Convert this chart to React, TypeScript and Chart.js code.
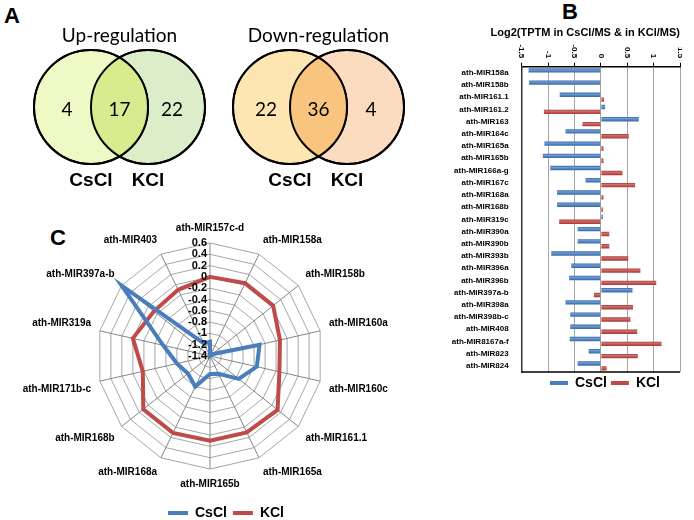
import React, { useEffect, useRef } from 'react';
import { Chart, registerables } from 'chart.js';
Chart.register(...registerables);

const FONT = '"Liberation Sans", Arial, sans-serif';
const VENN_FONT = 'Lato, "Open Sans", sans-serif';
Chart.defaults.font.family = FONT;
Chart.defaults.color = '#000';

// ---------- Panel A (Venn) ----------
const vennSets = ['CsCl', 'KCl'];
const upCounts = [4, 17, 22];
const downCounts = [22, 36, 4];

// ---------- Panel B (bars) ----------
const barCategories = [
  'ath-MIR158a', 'ath-MIR158b', 'ath-MIR161.1', 'ath-MIR161.2', 'ath-MIR163', 'ath-MIR164c',
  'ath-MIR165a', 'ath-MIR165b', 'ath-MIR166a-g', 'ath-MIR167c', 'ath-MIR168a', 'ath-MIR168b',
  'ath-MIR319c', 'ath-MIR390a', 'ath-MIR390b', 'ath-MIR393b', 'ath-MIR396a', 'ath-MIR396b',
  'ath-MIR397a-b', 'ath-MIR398a', 'ath-MIR398b-c', 'ath-MIR408', 'ath-MIR8167a-f', 'ath-MIR823', 'ath-MIR824',
];
const barCsCl = [-1.37, -1.36, -0.78, 0.08, 0.72, -0.67, -1.07, -1.1, -0.96, -0.29, -0.83, -0.83, 0.04,
  -0.44, -0.44, -0.94, -0.56, -0.6, 0.6, -0.67, -0.58, -0.58, -0.59, -0.23, -0.44];
const barKCl = [0.01, 0.01, 0.06, -1.08, -0.35, 0.53, 0.05, 0.05, 0.41, 0.65, 0.05, 0.04, -0.79,
  0.16, 0.16, 0.52, 0.75, 1.05, -0.13, 0.61, 0.56, 0.69, 1.15, 0.7, 0.11];
const barTickLabels = ['-1.5', '-1', '-0.5', '0', '0.5', '1', '1.5'];
const barTitle = 'Log2(TPTM in CsCl/MS & in KCl/MS)';

// ---------- Panel C (radar) ----------
const radarCategories = [
  'ath-MIR157c-d', 'ath-MIR158a', 'ath-MIR158b', 'ath-MIR160a', 'ath-MIR160c', 'ath-MIR161.1',
  'ath-MIR165a', 'ath-MIR165b', 'ath-MIR168a', 'ath-MIR168b', 'ath-MIR171b-c', 'ath-MIR319a',
  'ath-MIR397a-b', 'ath-MIR403',
];
const radarCsCl = [-1.15, -1.4, -1.35, -0.5, -0.55, -0.75, -1.05, -1.08, -0.8, -0.9, -0.8, -0.55, 0.6, -1.15];
const radarKCl = [0.0, 0.03, 0.03, -0.13, -0.14, 0.13, 0.1, 0.1, 0.11, 0.11, -0.18, 0.0, -0.13, -0.1];
const radarTickLabels = ['-1.4', '-1.2', '-1', '-0.8', '-0.6', '-0.4', '-0.2', '0', '0.2', '0.4', '0.6'];

const BLUE = '#4a7ebb';
const RED = '#be4b48';
const BAR_SHADES = [['#3a69a3', '#6f9bd3', BLUE], ['#a33d3a', '#d06f6c', RED]];
const VENN_RADIUS = 57;

// ---------- plugins ----------
const legendShift = {
  id: 'legendShift',
  afterLayout(chart: any, _a: any, opts: any) {
    const lg = chart.legend;
    if (!lg) return;
    const dx = opts.dx || 0, dy = opts.dy || 0;
    lg.left += dx; lg.right += dx; lg.top += dy; lg.bottom += dy;
  },
};

const vennOverlay = {
  id: 'vennOverlay',
  afterDatasetsDraw(chart: any, _a: any, opts: any) {
    const a = chart.getDatasetMeta(0).data[0];
    const b = chart.getDatasetMeta(1).data[0];
    if (!a || !b) return;
    const ra = a.options.radius, rb = b.options.radius;
    const ctx = chart.ctx;
    ctx.save();
    ctx.beginPath(); ctx.arc(a.x, a.y, ra, 0, Math.PI * 2); ctx.clip();
    ctx.beginPath(); ctx.arc(b.x, b.y, rb, 0, Math.PI * 2);
    ctx.fillStyle = opts.lensColor; ctx.fill();
    ctx.restore();
    ctx.save();
    ctx.lineWidth = 2; ctx.strokeStyle = '#000';
    [[a, ra], [b, rb]].forEach(([p, r]: any) => { ctx.beginPath(); ctx.arc(p.x, p.y, r, 0, Math.PI * 2); ctx.stroke(); });
    const xs = chart.scales.x, ys = chart.scales.y;
    const pos = [-0.42, 0.5, 1.42];
    ctx.font = `19px ${VENN_FONT}`; ctx.fillStyle = '#000'; ctx.textAlign = 'center'; ctx.textBaseline = 'middle';
    opts.counts.forEach((c: number, i: number) => ctx.fillText(String(c), xs.getPixelForValue(pos[i]), ys.getPixelForValue(0) + 3));
    ctx.restore();
  },
};

const barShade = {
  id: 'barShade',
  beforeDatasetsDraw(chart: any) {
    const ctx = chart.ctx;
    chart.data.datasets.forEach((_d: any, di: number) => {
      const [dark, light, base] = BAR_SHADES[di];
      chart.getDatasetMeta(di).data.forEach((el: any) => {
        const h = el.height, top = el.y - h / 2;
        const g = ctx.createLinearGradient(0, top, 0, top + h);
        g.addColorStop(0, dark); g.addColorStop(0.35, light); g.addColorStop(0.7, base); g.addColorStop(1, dark);
        el.options = Object.assign({}, el.options, { backgroundColor: g });
      });
    });
  },
};

const barDecor = {
  id: 'barDecor',
  afterDraw(chart: any) {
    const s = chart.scales.x; const ctx = chart.ctx; const ca = chart.chartArea;
    ctx.save();
    ctx.strokeStyle = '#000'; ctx.lineWidth = 1.5;
    ctx.beginPath(); ctx.moveTo(ca.left, ca.bottom); ctx.lineTo(ca.right, ca.bottom); ctx.stroke();
    ctx.font = `bold 8px ${FONT}`; ctx.fillStyle = '#000'; ctx.textAlign = 'right'; ctx.textBaseline = 'middle';
    s.ticks.forEach((t: any) => {
      const x = s.getPixelForValue(t.value);
      ctx.save(); ctx.translate(x, s.bottom - 8.5); ctx.rotate(Math.PI / 2); ctx.fillText(t.label, 0, 0); ctx.restore();
    });
    ctx.restore();
  },
};

const radarTicks = {
  id: 'radarTicks',
  afterDatasetsDraw(chart: any) {
    const s = chart.scales.r; const ctx = chart.ctx;
    ctx.save();
    ctx.font = `bold 11px ${FONT}`; ctx.fillStyle = '#000'; ctx.textAlign = 'right'; ctx.textBaseline = 'middle';
    s.ticks.forEach((t: any) => {
      const d = s.getDistanceFromCenterForValue(t.value);
      ctx.fillText(t.label, s.xCenter - 3, s.yCenter - d);
    });
    ctx.restore();
  },
};

// ---------- configs ----------
function vennConfig(title: string, counts: number[], fills: string[], lens: string): any {
  return {
    type: 'bubble',
    data: {
      datasets: vennSets.map((name, i) => ({
        label: name, data: [{ x: i, y: 0 }], backgroundColor: fills[i], borderColor: '#000', borderWidth: 2,
        radius: VENN_RADIUS, hoverRadius: 0, clip: false,
      })),
    },
    options: {
      responsive: false, animation: false, events: [],
      layout: { padding: { left: 10, right: 10 }, autoPadding: false },
      scales: {
        x: {
          type: 'linear', min: -1, max: 2,
          afterBuildTicks: (s: any) => { s.ticks = vennSets.map((_, i) => ({ value: i })); },
          ticks: { callback: (v: number) => vennSets[v], font: { size: 19, weight: 'bold' }, color: '#000', padding: 5, maxRotation: 0, autoSkip: false },
          grid: { display: false, drawTicks: false }, border: { display: false },
          afterFit: (s: any) => { s.height = 28; },
        },
        y: { display: false, min: -1, max: 1 },
      },
      plugins: {
        legend: { display: false }, tooltip: { enabled: false },
        title: { display: true, text: title, font: { family: VENN_FONT, size: 19, weight: 'normal' }, padding: { top: 0, bottom: 3 }, color: '#000' },
        vennOverlay: { lensColor: lens, counts },
      },
    },
    plugins: [vennOverlay],
  };
}

function barConfig(): any {
  return {
    type: 'bar',
    data: {
      labels: barCategories,
      datasets: [
        { label: 'CsCl', data: barCsCl, backgroundColor: BLUE, borderWidth: 0, categoryPercentage: 0.8, barPercentage: 0.9 },
        { label: 'KCl', data: barKCl, backgroundColor: RED, borderWidth: 0, categoryPercentage: 0.8, barPercentage: 0.9 },
      ],
    },
    options: {
      indexAxis: 'y', responsive: false, animation: false, events: [],
      layout: { padding: { right: 2 } },
      scales: {
        x: {
          position: 'top', min: -1.5, max: 1.5,
          ticks: { stepSize: 0.5, display: false, callback: (_v: number, i: number) => barTickLabels[i] },
          grid: { color: '#a6a6a6', tickLength: 4, tickColor: '#000' },
          border: { color: '#000', width: 1.5 },
          afterFit: (s: any) => { s.height = 23.5; },
        },
        y: {
          ticks: { font: { size: 8, weight: 'bold' }, color: '#000', padding: 5, autoSkip: false },
          grid: { display: false }, border: { color: '#333', width: 1.5 },
          afterFit: (s: any) => { s.width = 81.7; },
        },
      },
      plugins: {
        tooltip: { enabled: false },
        title: { display: true, text: barTitle, align: 'end', font: { size: 11, weight: 'bold' }, padding: { top: 0, bottom: 4 }, color: '#000' },
        legend: {
          position: 'bottom',
          labels: { boxWidth: 18, boxHeight: 4, padding: 4, font: { size: 14, weight: 'bold' }, color: '#000' },
        },
        legendShift: { dx: 45, dy: 0 },
      },
    },
    plugins: [barShade, barDecor, legendShift],
  };
}

function radarConfig(): any {
  return {
    type: 'radar',
    data: {
      labels: radarCategories,
      datasets: [
        { label: 'CsCl', data: radarCsCl, borderColor: BLUE, backgroundColor: BLUE, borderWidth: 4, pointRadius: 0, fill: false, tension: 0 },
        { label: 'KCl', data: radarKCl, borderColor: RED, backgroundColor: RED, borderWidth: 4, pointRadius: 0, fill: false, tension: 0 },
      ],
    },
    options: {
      responsive: false, animation: false, events: [],
      scales: {
        r: {
          min: -1.4, max: 0.6,
          ticks: { display: false, stepSize: 0.2, callback: (_v: number, i: number) => radarTickLabels[i] },
          grid: { color: '#a6a6a6', lineWidth: 1 },
          angleLines: { color: '#868686', lineWidth: 1 },
          pointLabels: { font: { size: 10, weight: 'bold' }, color: '#000', padding: 9 },
        },
      },
      plugins: {
        tooltip: { enabled: false },
        legend: {
          position: 'bottom',
          labels: {
            boxWidth: 20, boxHeight: 4, padding: 6, font: { size: 14, weight: 'bold' }, color: '#000',
            generateLabels: (chart: any) =>
              (Chart.defaults.plugins.legend.labels as any).generateLabels(chart).map((l: any) => ({ ...l, lineWidth: 0, fillStyle: l.strokeStyle })),
          },
        },
        legendShift: { dx: 16, dy: 10 },
      },
    },
    plugins: [radarTicks, legendShift],
  };
}

function ChartBox({ make, left, top, width, height }: { make: () => any; left: number; top: number; width: number; height: number }) {
  const ref = useRef<HTMLCanvasElement>(null);
  useEffect(() => {
    const chart = new Chart(ref.current as HTMLCanvasElement, make());
    return () => chart.destroy();
  }, []);
  return (
    <div style={{ position: 'absolute', left, top, width, height }}>
      <canvas ref={ref} width={width} height={height} style={{ width, height, display: 'block' }} />
    </div>
  );
}

const letterStyle: React.CSSProperties = {
  position: 'absolute', fontFamily: FONT, fontWeight: 'bold', fontSize: 22, lineHeight: '22px', color: '#000',
};

export default function App() {
  return (
    <div style={{ position: 'absolute', left: 0, top: 0, width: 694, height: 520, overflow: 'hidden', background: '#fff' }}>
      <div style={{ ...letterStyle, left: 4, top: 5 }}>A</div>
      <div style={{ ...letterStyle, left: 562, top: 1 }}>B</div>
      <div style={{ ...letterStyle, left: 50, top: 227 }}>C</div>
      <ChartBox make={() => vennConfig('Up-regulation', upCounts, ['#eff9c6', '#dcedca'], '#d6ec8e')} left={24} top={24} width={191} height={168} />
      <ChartBox make={() => vennConfig('Down-regulation', downCounts, ['#fee6b2', '#fcdcc1'], '#f8c47e')} left={223} top={24} width={191} height={168} />
      <ChartBox make={barConfig} left={440} top={26} width={242} height={374} />
      <ChartBox make={radarConfig} left={0} top={222} width={420} height={298} />
    </div>
  );
}
